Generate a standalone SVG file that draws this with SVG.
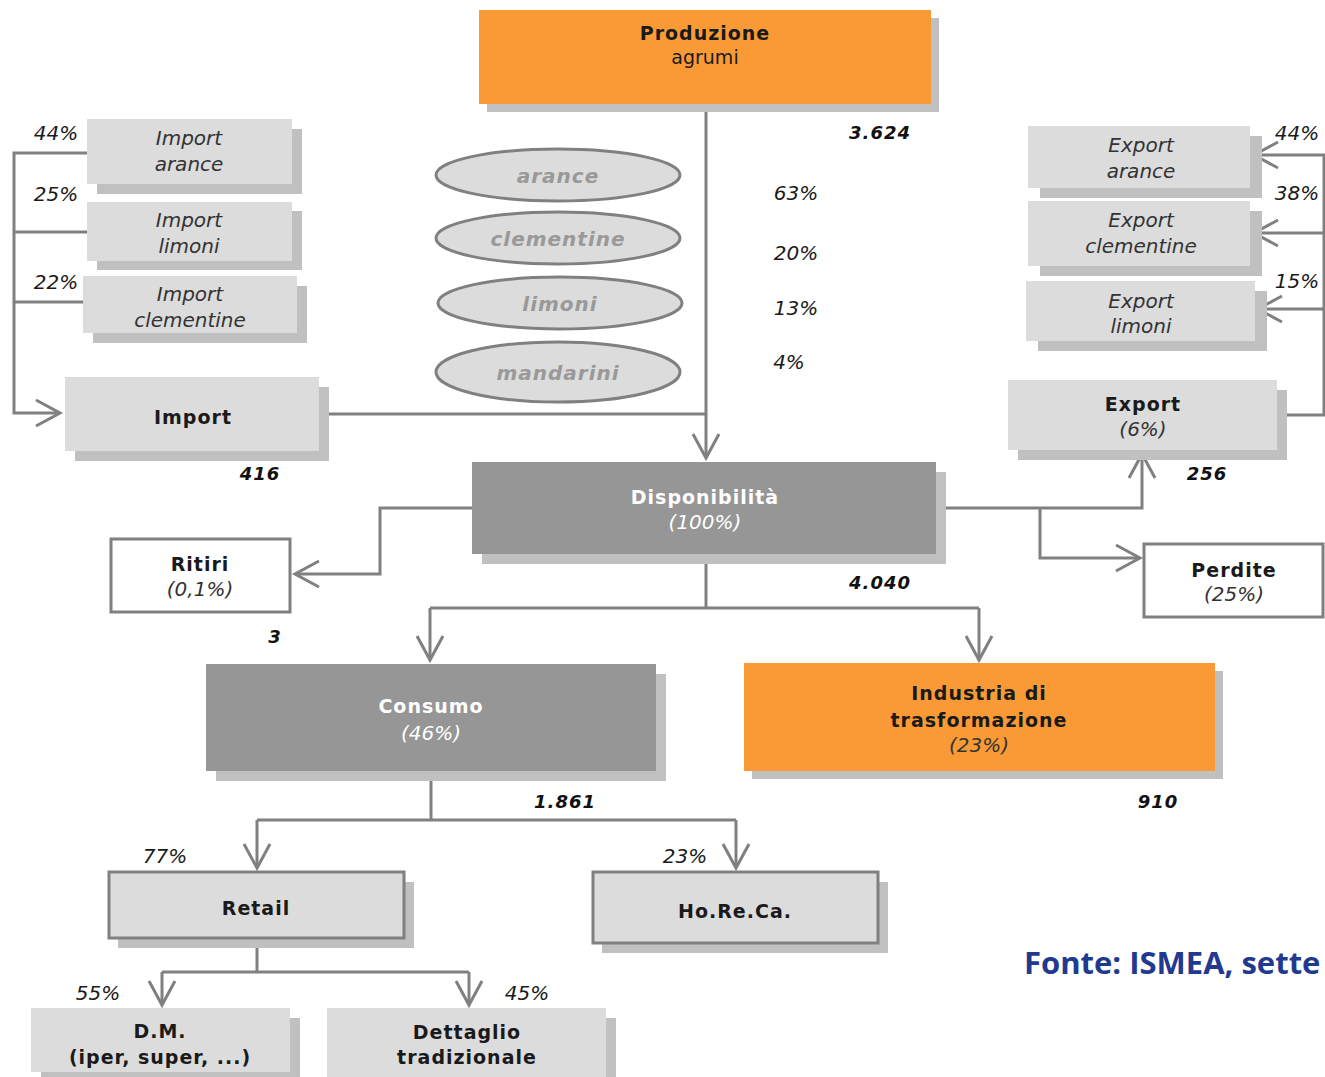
<svg xmlns="http://www.w3.org/2000/svg" width="1325" height="1077" viewBox="0 0 1325 1077">
<style>
.sh{fill:#c0c0c0}
.lg{fill:#dcdcdc}
.dg{fill:#969696}
.or{fill:#f99a36}
.wb{fill:#ffffff;stroke:#808080;stroke-width:3}
.bx{stroke:#808080;stroke-width:3}
.ln{fill:none;stroke:#808080;stroke-width:3}
.el{fill:#dcdcdc;stroke:#808080;stroke-width:3}
text{font-family:"DejaVu Sans","Liberation Sans",sans-serif;text-anchor:middle}
.b{font-weight:bold;font-size:19px;fill:#1a1a1a;letter-spacing:1px}
.bw{font-weight:bold;font-size:19px;fill:#ffffff;letter-spacing:1px}
.i{font-style:italic;font-size:20px;fill:#333333}
.iw{font-style:italic;font-size:20px;fill:#ffffff}
.p{font-style:italic;font-size:20px;fill:#1a1a1a}
.n{font-style:italic;font-weight:bold;font-size:18px;fill:#111111;letter-spacing:1px}
.e{font-style:italic;font-weight:bold;font-size:20px;fill:#999999;letter-spacing:1px}
.src{font-family:"Open Sans","Liberation Sans",sans-serif;font-weight:bold;font-size:31px;fill:#1f3a8f;text-anchor:start}
</style>
<defs>
<marker id="ar" viewBox="-30 -16 34 32" refX="0" refY="0" markerWidth="34" markerHeight="32" markerUnits="userSpaceOnUse" orient="auto">
<path d="M-24,-13 L0,0 L-24,13" fill="none" stroke="#808080" stroke-width="3"/>
</marker>
</defs>
<rect width="1325" height="1077" fill="#ffffff"/>

<g id="connectors">
<path class="ln" d="M706,104 V458" marker-end="url(#ar)"/>
<path class="ln" d="M319,414 H706"/>
<path class="ln" d="M87,153 H14 V413 H60" marker-end="url(#ar)"/>
<path class="ln" d="M14,232 H87"/>
<path class="ln" d="M14,302 H83"/>
<path class="ln" d="M1277,415 H1324 V155 H1254" marker-end="url(#ar)"/>
<path class="ln" d="M1324,233 H1254" marker-end="url(#ar)"/>
<path class="ln" d="M1324,309 H1258" marker-end="url(#ar)"/>
<path class="ln" d="M936,508 H1142 V454" marker-end="url(#ar)"/>
<path class="ln" d="M1040,508 V558 H1140" marker-end="url(#ar)"/>
<path class="ln" d="M472,508 H380 V574 H295" marker-end="url(#ar)"/>
<path class="ln" d="M706,554 V608"/>
<path class="ln" d="M430,608 H979"/>
<path class="ln" d="M430,608 V660" marker-end="url(#ar)"/>
<path class="ln" d="M979,608 V660" marker-end="url(#ar)"/>
<path class="ln" d="M431,771 V820"/>
<path class="ln" d="M257,820 H736"/>
<path class="ln" d="M257,820 V868" marker-end="url(#ar)"/>
<path class="ln" d="M736,820 V868" marker-end="url(#ar)"/>
<path class="ln" d="M257,938 V972"/>
<path class="ln" d="M162,972 H469"/>
<path class="ln" d="M162,972 V1005" marker-end="url(#ar)"/>
<path class="ln" d="M469,972 V1005" marker-end="url(#ar)"/>
</g>

<g id="produzione">
<rect class="sh" x="487" y="18" width="452" height="94"/>
<rect class="or" x="479" y="10" width="452" height="94"/>
<text class="b" x="705" y="40">Produzione</text>
<text x="705" y="64" style="font-size:19px;fill:#1a1a1a">agrumi</text>
</g>

<g id="varieta">
<ellipse class="el" cx="558" cy="175" rx="122" ry="26"/>
<text class="e" x="558" y="183">arance</text>
<ellipse class="el" cx="558" cy="238" rx="122" ry="26"/>
<text class="e" x="558" y="246">clementine</text>
<ellipse class="el" cx="560" cy="303" rx="122" ry="26"/>
<text class="e" x="560" y="311">limoni</text>
<ellipse class="el" cx="558" cy="372" rx="122" ry="30"/>
<text class="e" x="558" y="380">mandarini</text>
</g>

<g id="quote-produzione">
<text class="n" x="880" y="139">3.624</text>
<text class="p" x="796" y="200">63%</text>
<text class="p" x="796" y="260">20%</text>
<text class="p" x="796" y="315">13%</text>
<text class="p" x="789" y="369">4%</text>
</g>

<g id="import-arance">
<rect class="sh" x="97" y="129" width="205" height="65"/>
<rect class="lg" x="87" y="119" width="205" height="65"/>
<text class="i" x="189" y="145">Import</text>
<text class="i" x="189" y="171">arance</text>
<text class="p" x="56" y="140">44%</text>
</g>
<g id="import-limoni">
<rect class="sh" x="97" y="211" width="205" height="59"/>
<rect class="lg" x="87" y="202" width="205" height="59"/>
<text class="i" x="189" y="227">Import</text>
<text class="i" x="189" y="253">limoni</text>
<text class="p" x="56" y="201">25%</text>
</g>
<g id="import-clementine">
<rect class="sh" x="93" y="286" width="214" height="57"/>
<rect class="lg" x="83" y="276" width="214" height="57"/>
<text class="i" x="190" y="301">Import</text>
<text class="i" x="190" y="327">clementine</text>
<text class="p" x="56" y="289">22%</text>
</g>

<g id="import">
<rect class="sh" x="75" y="387" width="254" height="74"/>
<rect class="lg" x="65" y="377" width="254" height="74"/>
<text class="b" x="193" y="424">Import</text>
<text class="n" x="260" y="480">416</text>
</g>

<g id="export-arance">
<rect class="sh" x="1040" y="136" width="222" height="62"/>
<rect class="lg" x="1028" y="126" width="222" height="62"/>
<text class="i" x="1141" y="152">Export</text>
<text class="i" x="1141" y="178">arance</text>
<text class="p" x="1297" y="140">44%</text>
</g>
<g id="export-clementine">
<rect class="sh" x="1040" y="211" width="222" height="65"/>
<rect class="lg" x="1028" y="201" width="222" height="65"/>
<text class="i" x="1141" y="227">Export</text>
<text class="i" x="1141" y="253">clementine</text>
<text class="p" x="1297" y="200">38%</text>
</g>
<g id="export-limoni">
<rect class="sh" x="1038" y="291" width="229" height="60"/>
<rect class="lg" x="1026" y="281" width="229" height="60"/>
<text class="i" x="1141" y="308">Export</text>
<text class="i" x="1141" y="333">limoni</text>
<text class="p" x="1297" y="288">15%</text>
</g>

<g id="export">
<rect class="sh" x="1018" y="390" width="269" height="70"/>
<rect class="lg" x="1008" y="380" width="269" height="70"/>
<text class="b" x="1143" y="411">Export</text>
<text class="i" x="1143" y="436">(6%)</text>
<text class="n" x="1207" y="480">256</text>
</g>

<g id="disponibilita">
<rect class="sh" x="482" y="472" width="464" height="92"/>
<rect class="dg" x="472" y="462" width="464" height="92"/>
<text class="bw" x="705" y="504">Disponibilità</text>
<text class="iw" x="705" y="529">(100%)</text>
<text class="n" x="880" y="589">4.040</text>
</g>

<g id="ritiri">
<rect class="wb" x="111" y="539" width="179" height="73"/>
<text class="b" x="200" y="571">Ritiri</text>
<text class="i" x="200" y="596">(0,1%)</text>
<text class="n" x="275" y="643">3</text>
</g>

<g id="perdite">
<rect class="wb" x="1144" y="544" width="179" height="73"/>
<text class="b" x="1234" y="577">Perdite</text>
<text class="i" x="1234" y="601">(25%)</text>
</g>

<g id="consumo">
<rect class="sh" x="216" y="674" width="450" height="107"/>
<rect class="dg" x="206" y="664" width="450" height="107"/>
<text class="bw" x="431" y="713">Consumo</text>
<text class="iw" x="431" y="740">(46%)</text>
<text class="n" x="565" y="808">1.861</text>
</g>

<g id="industria">
<rect class="sh" x="752" y="671" width="471" height="108"/>
<rect class="or" x="744" y="663" width="471" height="108"/>
<text class="b" x="979" y="700">Industria di</text>
<text class="b" x="979" y="727">trasformazione</text>
<text class="i" x="979" y="752">(23%)</text>
<text class="n" x="1158" y="808">910</text>
</g>

<g id="retail">
<rect class="sh" x="118" y="882" width="296" height="66"/>
<rect class="lg bx" x="109" y="872" width="295" height="66"/>
<text class="b" x="256" y="915">Retail</text>
<text class="p" x="165" y="863">77%</text>
</g>

<g id="horeca">
<rect class="sh" x="602" y="882" width="286" height="71"/>
<rect class="lg bx" x="593" y="872" width="285" height="71"/>
<text class="b" x="735" y="918">Ho.Re.Ca.</text>
<text class="p" x="685" y="863">23%</text>
</g>

<g id="dm">
<rect class="sh" x="41" y="1018" width="259" height="64"/>
<rect class="lg" x="31" y="1008" width="259" height="64"/>
<text class="b" x="160" y="1038">D.M.</text>
<text class="b" x="160" y="1064">(iper, super, ...)</text>
<text class="p" x="98" y="1000">55%</text>
</g>

<g id="dettaglio">
<rect class="sh" x="337" y="1018" width="279" height="64"/>
<rect class="lg" x="327" y="1008" width="279" height="69"/>
<text class="b" x="467" y="1039">Dettaglio</text>
<text class="b" x="467" y="1064">tradizionale</text>
<text class="p" x="527" y="1000">45%</text>
</g>

<text class="src" x="1024" y="974">Fonte: ISMEA, sette</text>
</svg>
